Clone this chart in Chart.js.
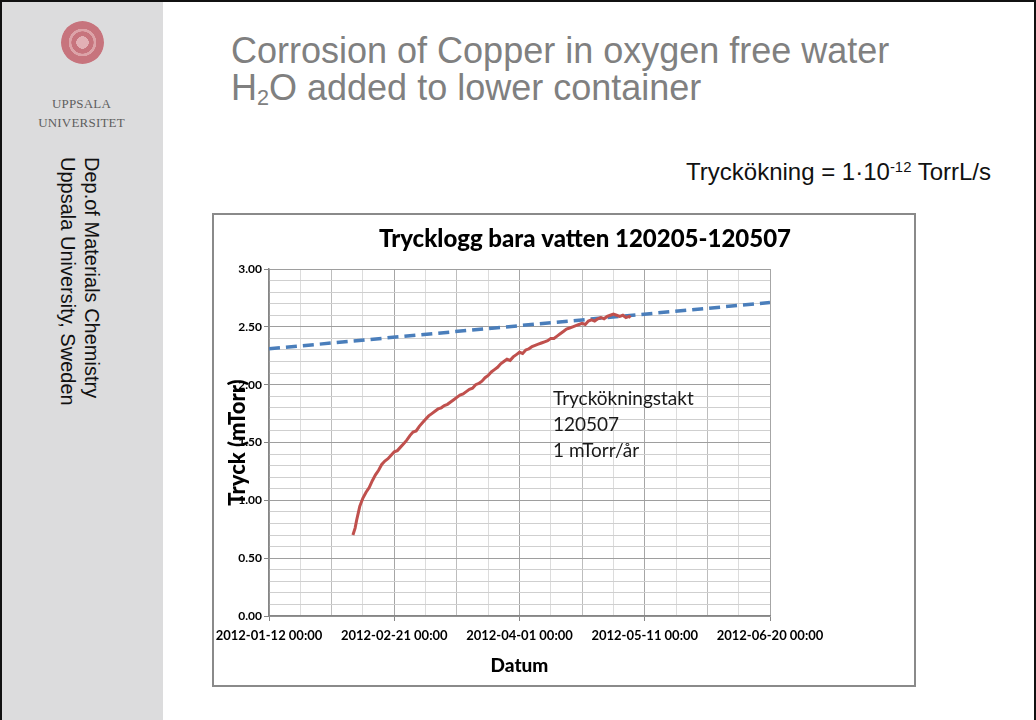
<!DOCTYPE html>
<html>
<head>
<meta charset="utf-8">
<title>Trycklogg bara vatten</title>
<script src="https://cdn.jsdelivr.net/npm/chart.js@4.4.0/dist/chart.umd.min.js"></script>
<style>
  html, body { margin: 0; padding: 0; background: #fff; }
  #slide { position: relative; width: 1036px; height: 720px; overflow: hidden; background: #fff;
           font-family: "Liberation Sans", Arial, sans-serif; }
  #frame { position: absolute; left: 0; top: 0; width: 1036px; height: 720px; box-sizing: border-box;
           border: 2px solid #111; border-bottom: none; pointer-events: none; }
  #side { position: absolute; left: 0; top: 0; width: 163px; height: 720px; background: #dcdcdd; }
  #seal { position: absolute; left: 61px; top: 21px; width: 43px; height: 43px; border-radius: 50%;
          background: radial-gradient(circle, #e2b0b5 0 20%, #c7747d 21% 36%, #dca3a8 37% 45%, #c7747d 46% 70%, #d99ba1 71% 79%, #c46e77 80% 100%); }
  #uu { position: absolute; left: 0; top: 94px; width: 163px; text-align: center; color: #5e5e5e;
        font-family: "Liberation Serif", "DejaVu Serif", serif; font-size: 13px; line-height: 19px; letter-spacing: 0.2px; }
  #dept { position: absolute; left: 56px; top: 157px; writing-mode: vertical-rl; font-size: 20px;
          line-height: 24px; color: #111; white-space: nowrap; }
  #heading { position: absolute; left: 231px; top: 32px; color: #808080; font-size: 36px; line-height: 37px; white-space: nowrap; }
  #heading sub { font-size: 60%; vertical-align: -0.25em; line-height: 0; }
  #rate { position: absolute; right: 45px; top: 160px; font-size: 24px; line-height: 24px; color: #111; white-space: nowrap; }
  #rate sup { font-size: 62%; vertical-align: 0.55em; line-height: 0; }
  #box { position: absolute; left: 212px; top: 213px; width: 704px; height: 474px; box-sizing: border-box;
         border: 2px solid #8a8a8a; }
  #chart { position: absolute; left: 213px; top: 214px; }
</style>
</head>
<body>
<div id="slide">
  <div id="side"></div>
  <div id="seal"></div>
  <div id="uu">UPPSALA<br>UNIVERSITET</div>
  <div id="dept">Dep.of Materials Chemistry<br>Uppsala University, Sweden</div>
  <div id="heading">Corrosion of Copper in oxygen free water<br>H<sub>2</sub>O added to lower container</div>
  <div id="rate">Tryckökning = 1·10<sup>-12</sup> TorrL/s</div>
  <div id="box"></div>
  <canvas id="chart" width="744" height="472"></canvas>
  <div id="frame"></div>
</div>
<script>
// days counted from 2012-01-12 00:00
var xTickLabels = ["2012-01-12 00:00", "2012-02-21 00:00", "2012-04-01 00:00", "2012-05-11 00:00", "2012-06-20 00:00"];
var yTickLabels = ["0.00", "0.50", "1.00", "1.50", "2.00", "2.50", "3.00"];

// measured pressure (mTorr)
var logDays = [26.8, 27.5, 28, 28.5, 29, 30, 31, 32, 33, 34, 35, 36, 37, 38, 39, 40, 41, 42, 43, 44,
  45, 46, 47, 48, 49, 50, 51, 52, 53, 54, 55, 56, 57, 58, 59, 60, 61, 62, 63, 64,
  65, 66, 67, 68, 69, 70, 71, 72, 73, 74, 75, 76, 77, 78, 79, 80, 81, 82, 83, 84,
  85, 86, 87, 88, 89, 90, 91, 92, 93, 94, 95, 96, 97, 98, 99, 100, 101, 102, 103, 104,
  105, 106, 107, 108, 109, 110, 111, 112, 113, 114, 115, 115.5];
var logValues = [0.70, 0.76, 0.83, 0.89, 0.95, 1.02, 1.07, 1.11, 1.17, 1.22, 1.26, 1.31, 1.34, 1.36, 1.39, 1.42, 1.43, 1.46, 1.49, 1.52,
  1.56, 1.59, 1.60, 1.64, 1.67, 1.70, 1.73, 1.75, 1.77, 1.79, 1.80, 1.82, 1.83, 1.85, 1.87, 1.89, 1.91, 1.92, 1.94, 1.96,
  1.97, 2.00, 2.01, 2.03, 2.06, 2.08, 2.11, 2.13, 2.15, 2.18, 2.20, 2.22, 2.21, 2.24, 2.26, 2.28, 2.27, 2.30, 2.31, 2.33,
  2.34, 2.35, 2.36, 2.37, 2.38, 2.40, 2.40, 2.42, 2.44, 2.46, 2.48, 2.49, 2.50, 2.51, 2.52, 2.53, 2.52, 2.55, 2.56, 2.55,
  2.57, 2.58, 2.57, 2.59, 2.60, 2.61, 2.60, 2.59, 2.60, 2.58, 2.59, 2.58];

// linear trend (1 mTorr/år)
var trendDays = [0, 160];
var trendValues = [2.31, 2.71];

var noteLines = ["Tryckökningstakt", "120507", "1 mTorr/år"];

var noteText = {
  id: "noteText",
  afterDatasetsDraw: function (chart) {
    var ctx = chart.ctx;
    var x = chart.scales.x.getPixelForValue(90.7);
    var y = chart.scales.y.getPixelForValue(1.88);
    ctx.save();
    ctx.font = "19px Lato";
    ctx.fillStyle = "#1a1a1a";
    ctx.textBaseline = "middle";
    noteLines.forEach(function (t, i) { ctx.fillText(t, x, y + i * 26); });
    ctx.restore();
  }
};

var ctx = document.getElementById("chart").getContext("2d");

new Chart(ctx, {
  type: "line",
  data: {
    datasets: [
      {
        label: "Tryck",
        data: logDays.map(function (d, i) { return { x: d, y: logValues[i] }; }),
        borderColor: "#c0504d",
        borderWidth: 3,
        pointRadius: 0,
        tension: 0,
        fill: false
      },
      {
        label: "Trend",
        data: trendDays.map(function (d, i) { return { x: d, y: trendValues[i] }; }),
        borderColor: "#4a7ebb",
        borderWidth: 3.5,
        borderDash: [11, 6],
        pointRadius: 0,
        tension: 0,
        fill: false
      }
    ]
  },
  options: {
    responsive: false,
    animation: false,
    plugins: {
      legend: { display: false },
      tooltip: { enabled: false },
      title: {
        display: true,
        text: "Trycklogg bara vatten 120205-120507",
        color: "#000",
        font: { family: "Lato", size: 24, weight: 900 },
        padding: { top: 11, bottom: 15.2 }
      }
    },
    scales: {
      x: {
        type: "linear",
        min: 0,
        max: 160,
        afterFit: function (scale) {
          scale.height = 70;
          scale.paddingLeft = 0;
          scale.paddingRight = 187;
        },
        border: { color: "#868686", width: 1.5 },
        grid: {
          tickLength: 5,
          color: function (c) {
            var v = c.tick.value;
            return v % 40 === 0 ? "#a6a6a6" : (v % 20 === 0 ? "#bdbdbd" : "#dcdcdc");
          },
          tickColor: function (c) { return c.tick.value % 40 === 0 ? "#868686" : "rgba(0,0,0,0)"; }
        },
        ticks: {
          stepSize: 10,
          maxTicksLimit: 100,
          autoSkip: false,
          maxRotation: 0,
          padding: 7,
          color: "#000",
          font: { family: "Lato", size: 13, weight: "bold" },
          callback: function (v) { return v % 40 === 0 ? xTickLabels[v / 40] : ""; }
        },
        title: {
          display: true,
          text: "Datum",
          color: "#000",
          font: { family: "Lato", size: 19, weight: 900 },
          padding: { top: 0, bottom: 8.6 }
        }
      },
      y: {
        min: 0,
        max: 3,
        afterFit: function (scale) { scale.width = 56; },
        border: { color: "#868686", width: 1.5 },
        grid: {
          tickLength: 5,
          color: function (c) { return Math.round(c.tick.value * 10) % 5 === 0 ? "#9e9e9e" : "#cfcfcf"; },
          tickColor: function (c) { return Math.round(c.tick.value * 10) % 5 === 0 ? "#868686" : "rgba(0,0,0,0)"; }
        },
        ticks: {
          stepSize: 0.1,
          maxTicksLimit: 100,
          autoSkip: false,
          padding: 2,
          color: "#000",
          font: { family: "Lato", size: 12, weight: "bold" },
          callback: function (v) {
            var k = Math.round(v * 10);
            return k % 5 === 0 ? yTickLabels[k / 5] : "";
          }
        },
        title: {
          display: true,
          text: "Tryck (mTorr)",
          color: "#000",
          font: { family: "Lato", size: 22, weight: 900 },
          padding: { top: 12, bottom: 0 }
        }
      }
    }
  },
  plugins: [noteText]
});
</script>
</body>
</html>
